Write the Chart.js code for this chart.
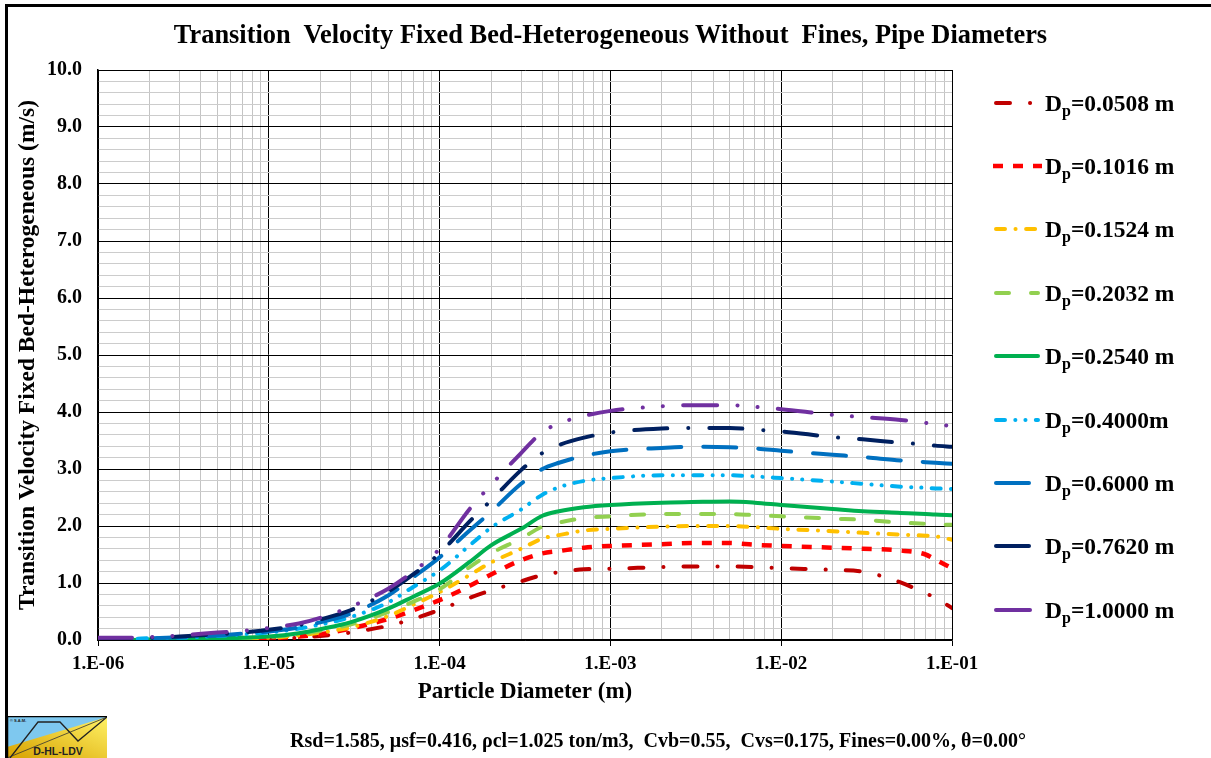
<!DOCTYPE html>
<html>
<head>
<meta charset="utf-8">
<title>Transition Velocity Fixed Bed-Heterogeneous</title>
<script src="https://cdn.jsdelivr.net/npm/chart.js@4.4.1/dist/chart.umd.min.js"></script>
<style>
  html, body { margin: 0; padding: 0; background: #fff; }
  body { width: 1211px; height: 758px; position: relative; overflow: hidden;
         font-family: "Liberation Serif", "Times New Roman", serif; color: #000; }
  .frame { position: absolute; left: 5px; top: 4px; right: -20px; bottom: -20px;
           border-left: 3px solid #000; border-top: 3px solid #000; }
  #wrap { position: absolute; left: 0; top: 0; width: 1211px; height: 758px; }
  .title { position: absolute; left: 10px; width: 1201px; top: 21px; text-align: center;
           font-weight: bold; font-size: 26.4px; line-height: 26px; white-space: pre; }
  .legend-row { position: absolute; left: 990px; height: 24px; }
  .legend-row svg { position: absolute; left: 0; top: 0; }
  .legend-row .lbl { position: absolute; left: 55px; top: -1px; font-weight: bold; font-size: 23.5px;
                     line-height: 22px; white-space: pre; }
  .lbl .sub { font-size: 16px; line-height: 0; position: relative; top: 5px; }
  .foot { position: absolute; left: 158px; width: 1000px; top: 730px; text-align: center;
          font-weight: bold; font-size: 20px; line-height: 20px; white-space: pre; }
  .logo { position: absolute; left: 7px; top: 716px; }
</style>
</head>
<body>
<div class="frame"></div>
<div id="wrap"><canvas id="chart"></canvas></div>
<div class="title">Transition  Velocity Fixed Bed-Heterogeneous Without  Fines, Pipe Diameters</div>
<div id="legend"></div>
<div class="foot">Rsd=1.585, μsf=0.416, ρcl=1.025 ton/m3,  Cvb=0.55,  Cvs=0.175, Fines=0.00%, θ=0.00°</div>
<svg class="logo" width="100" height="42" viewBox="0 0 100 42">
  <defs>
    <linearGradient id="yg" x1="0" y1="1" x2="1" y2="0">
      <stop offset="0" stop-color="#d8a200"/>
      <stop offset="1" stop-color="#fff266"/>
    </linearGradient>
  </defs>
  <rect x="0" y="0" width="100" height="42" fill="url(#yg)"/>
  <polygon points="0,0 100,0 100,1 0,31" fill="#7ec8ef"/>
  <polyline points="3,42 31,6 53,6 71,25 100,1" fill="none" stroke="#222" stroke-width="1.3"/>
  <line x1="0" y1="42" x2="100" y2="1" stroke="#333" stroke-width="0.8"/>
  <path d="M0.5,42 V0.5 H100" fill="none" stroke="#000" stroke-width="1.5"/>
  <text x="3" y="6" font-family="Liberation Sans, Arial, sans-serif" font-size="4" font-weight="bold" fill="#222">© S.A.M.</text>
  <text x="51" y="39" text-anchor="middle" font-family="Liberation Sans, Arial, sans-serif" font-size="10.5" font-weight="bold" fill="#222">D-HL-LDV</text>
</svg>
<script>
// particle diameter (m)
const dParticle = [1e-6, 1.5e-6, 2e-6, 3e-6, 5e-6, 7e-6, 1e-5, 1.5e-5, 2e-5, 3e-5, 5e-5, 7e-5,
  1e-4, 1.5e-4, 2e-4, 3e-4, 4e-4, 5e-4, 7e-4, 1e-3, 2e-3, 3e-3, 5e-3, 7e-3,
  1e-2, 2e-2, 3e-2, 5e-2, 7e-2, 8e-2, 1e-1];

// transition velocity (m/s) per pipe diameter
const v0508 = [0.00, 0.00, 0.00, 0.00, 0.00, 0.01, 0.02, 0.04, 0.07, 0.13, 0.25, 0.37,
  0.53, 0.74, 0.87, 1.03, 1.14, 1.19, 1.24, 1.25, 1.28, 1.29, 1.29, 1.28,
  1.26, 1.23, 1.20, 1.01, 0.82, 0.74, 0.56];
const v1016 = [0.00, 0.00, 0.00, 0.00, 0.01, 0.01, 0.03, 0.06, 0.10, 0.20, 0.37, 0.52,
  0.70, 0.95, 1.15, 1.40, 1.52, 1.56, 1.62, 1.65, 1.68, 1.70, 1.70, 1.67,
  1.65, 1.62, 1.60, 1.57, 1.50, 1.41, 1.26];
const v1524 = [0.00, 0.00, 0.00, 0.01, 0.02, 0.03, 0.04, 0.08, 0.13, 0.22, 0.42, 0.62,
  0.84, 1.14, 1.36, 1.60, 1.78, 1.84, 1.92, 1.95, 1.99, 2.00, 2.00, 1.98,
  1.95, 1.91, 1.88, 1.85, 1.83, 1.82, 1.76];
const v2032 = [0.00, 0.00, 0.00, 0.01, 0.02, 0.03, 0.05, 0.10, 0.16, 0.27, 0.49, 0.67,
  0.89, 1.28, 1.52, 1.78, 1.99, 2.06, 2.14, 2.17, 2.21, 2.21, 2.21, 2.19,
  2.17, 2.13, 2.11, 2.06, 2.04, 2.03, 2.02];
const v2540 = [0.00, 0.00, 0.01, 0.01, 0.03, 0.04, 0.06, 0.12, 0.19, 0.31, 0.55, 0.76,
  0.99, 1.37, 1.66, 1.95, 2.18, 2.26, 2.33, 2.37, 2.41, 2.42, 2.43, 2.41,
  2.37, 2.30, 2.26, 2.23, 2.21, 2.20, 2.19];
const v4000 = [0.02, 0.02, 0.03, 0.04, 0.07, 0.10, 0.13, 0.20, 0.27, 0.40, 0.66, 0.93,
  1.22, 1.66, 1.97, 2.29, 2.55, 2.68, 2.79, 2.84, 2.89, 2.89, 2.89, 2.87,
  2.84, 2.78, 2.74, 2.69, 2.67, 2.66, 2.65];
const v6000 = [0.02, 0.02, 0.03, 0.05, 0.08, 0.11, 0.15, 0.22, 0.31, 0.46, 0.78, 1.10,
  1.45, 1.92, 2.25, 2.74, 3.00, 3.11, 3.23, 3.31, 3.37, 3.39, 3.38, 3.36,
  3.32, 3.25, 3.21, 3.15, 3.12, 3.11, 3.09];
const v7620 = [0.03, 0.03, 0.04, 0.06, 0.10, 0.13, 0.18, 0.26, 0.36, 0.52, 0.85, 1.15,
  1.52, 2.08, 2.45, 2.98, 3.28, 3.42, 3.55, 3.64, 3.71, 3.72, 3.72, 3.69,
  3.66, 3.56, 3.52, 3.46, 3.43, 3.41, 3.39];
const v10000 = [0.04, 0.04, 0.05, 0.08, 0.13, 0.16, 0.21, 0.29, 0.39, 0.58, 0.90, 1.20,
  1.60, 2.30, 2.72, 3.28, 3.65, 3.80, 3.93, 4.02, 4.10, 4.12, 4.12, 4.09,
  4.05, 3.95, 3.91, 3.86, 3.81, 3.79, 3.75];

const pipeLabels = ["0.0508 m", "0.1016 m", "0.1524 m", "0.2032 m", "0.2540 m",
  "0.4000m", "0.6000 m", "0.7620 m", "1.0000 m"];
const series = [v0508, v1016, v1524, v2032, v2540, v4000, v6000, v7620, v10000];

// line styles
const colors = ["#C00000", "#FF0000", "#FFC000", "#92D050", "#00B050", "#00B0F0", "#0070C0", "#002060", "#7030A0"];
const dashes = [[14, 20, 0.1, 20], [10, 10], [9, 10.5, 0.1, 10.5], [13, 22], [],
  [9, 10.3, 0.1, 10, 0.1, 10.3], [33, 22], [33, 21, 0.1, 21], [34, 20.3, 0.1, 20, 0.1, 20.3]];
const caps = ["round", "butt", "round", "round", "round", "round", "round", "round", "round"];
const widths = [4, 4.5, 4, 4, 4, 4, 4, 4, 4];

const yMajor = [0, 1, 2, 3, 4, 5, 6, 7, 8, 9, 10];
const xDecades = [-6, -5, -4, -3, -2, -1];

const serif = "'Liberation Serif', 'Times New Roman', serif";
const isDecade = v => { const e = Math.log10(v); return Math.abs(e - Math.round(e)) < 1e-6; };

/* legend (html) */
const lg = document.getElementById("legend");
pipeLabels.forEach((lab, i) => {
  const y = 102.5 + i * 63.4;
  const row = document.createElement("div");
  row.className = "legend-row";
  row.style.top = (y - 10) + "px";
  const x1 = caps[i] === "butt" ? 3 : 6, x2 = caps[i] === "butt" ? 52 : 48;
  row.innerHTML =
    `<svg width="55" height="20"><line x1="${x1}" y1="10" x2="${x2}" y2="10" stroke="${colors[i]}"
       stroke-width="${widths[i]}" stroke-linecap="${caps[i]}" stroke-dasharray="${dashes[i].join(" ") || "none"}"/></svg>` +
    `<span class="lbl">D<span class="sub">p</span>=${lab}</span>`;
  lg.appendChild(row);
});

/* chart */
const xTicks = [];
xDecades.forEach(e => {
  if (e === -1) { xTicks.push(0.1); return; }
  for (let m = 1; m <= 9; m++) xTicks.push(m * Math.pow(10, e));
});

new Chart(document.getElementById("chart"), {
  type: "line",
  data: {
    datasets: series.map((s, i) => ({
      label: "Dp=" + pipeLabels[i],
      data: s.map((v, k) => ({ x: dParticle[k], y: v })),
      borderColor: colors[i],
      borderWidth: widths[i],
      borderDash: dashes[i],
      borderCapStyle: caps[i],
      borderJoinStyle: "round",
      pointRadius: 0,
      cubicInterpolationMode: "monotone",
      fill: false,
    })).reverse(),
  },
  options: {
    responsive: true, maintainAspectRatio: false, animation: false,
    layout: { padding: { left: 5, top: 70, right: 259, bottom: 48 } },
    plugins: { legend: { display: false }, title: { display: false }, tooltip: { enabled: false } },
    scales: {
      x: {
        type: "logarithmic", min: 1e-6, max: 1e-1,
        afterBuildTicks: s => { s.ticks = xTicks.map(v => ({ value: v })); },
        afterFit: s => { s.height = 70; },
        ticks: {
          autoSkip: false, maxRotation: 0, padding: 7, color: "#000",
          font: { family: serif, size: 19, weight: "bold" },
          callback: v => isDecade(v) ? "1.E-0" + (-Math.round(Math.log10(v))) : "",
        },
        grid: {
          drawTicks: true, tickLength: 6,
          color: c => (c.tick && isDecade(c.tick.value)) ? "#000" : "#c4c4c4",
          tickColor: c => (c.tick && isDecade(c.tick.value)) ? "#000" : "rgba(0,0,0,0)",
          lineWidth: 1,
        },
        border: { display: true, color: "#000", width: 1.5 },
        title: {
          display: true, text: "Particle Diameter (m)", color: "#000",
          font: { family: serif, size: 23, weight: "bold" }, padding: { top: 0, bottom: 4 },
        },
      },
      y: {
        type: "linear", min: 0, max: 10,
        afterFit: s => { s.width = 93; },
        ticks: {
          stepSize: 0.2, maxTicksLimit: 100, autoSkip: false, padding: 16, color: "#000",
          font: { family: serif, size: 20, weight: "bold" },
          callback: v => yMajor.some(m => Math.abs(m - v) < 1e-6) ? v.toFixed(1) : "",
        },
        grid: {
          drawTicks: false,
          color: c => (c.tick && yMajor.some(m => Math.abs(m - c.tick.value) < 1e-6)) ? "#000" : "#cccccc",
          lineWidth: 1,
        },
        border: { display: true, color: "#000", width: 1.5 },
        title: {
          display: true, text: "Transition Velocity Fixed Bed-Heterogeneous (m/s)", color: "#000",
          font: { family: serif, size: 23.5, weight: "bold" }, padding: { top: 9, bottom: 0 },
        },
      },
    },
  },
});
</script>
</body>
</html>
